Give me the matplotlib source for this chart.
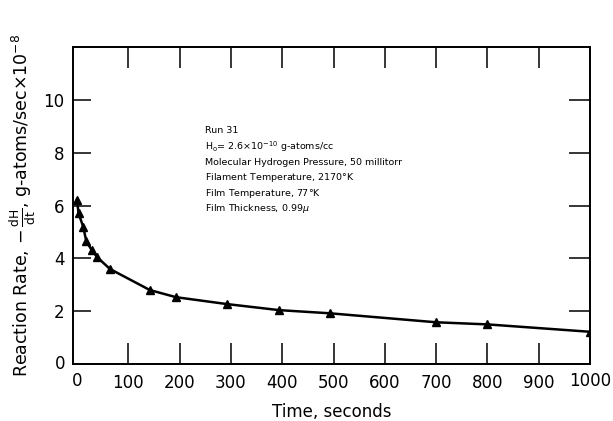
import matplotlib
matplotlib.use("Agg")
import matplotlib.pyplot as plt

# Reaction rate vs time, Run 31
time_s = [0, 3, 12, 18, 29, 39, 64, 142, 193, 292, 394, 493, 700, 800, 1000]
rate = [6.2, 5.7, 5.2, 4.65, 4.3, 4.05, 3.6, 2.8, 2.53, 2.27, 2.04, 1.92, 1.58, 1.5, 1.22]

x_ticks = [100, 200, 300, 400, 500, 600, 700, 800, 900]
x_ticklabels = ["100", "200", "300", "400", "500", "600", "700", "800", "900"]
y_ticks = [2, 4, 6, 8, 10]

notes = [
    "Run 31",
    r"H$_\mathrm{o}$= 2.6$\times$10$^{-10}$ g-atoms/cc",
    "Molecular Hydrogen Pressure, 50 millitorr",
    "Filament Temperature, 2170$\\degree$K",
    "Film Temperature, 77$\\degree$K",
    "Film Thickness, 0.99$\\mu$",
]

plt.rcParams["font.family"] = ["DejaVu Sans"]
plt.rcParams["mathtext.fontset"] = "dejavusans"

fig = plt.figure(figsize=(6.13, 4.21), dpi=100)
ax = fig.add_axes([0.119, 0.1354, 0.8435, 0.7526])

ax.plot(time_s, rate, color="black", lw=1.8, marker="^", ms=6,
        markerfacecolor="black", markeredgecolor="black", zorder=3)

ax.set_xlim(-8, 1000)
ax.set_ylim(0, 12)

ax.set_xticks(x_ticks)
ax.set_xticklabels(x_ticklabels)
ax.set_yticks(y_ticks)
ax.tick_params(axis="x", direction="in", length=15, width=1.1, top=False,
               labelsize=12, pad=7)
ax.tick_params(axis="y", direction="in", length=13, width=1.1, right=False,
               labelsize=12, pad=6)

# inward ticks along the top and right edges
ax_top = ax.twiny()
ax_top.set_xlim(ax.get_xlim())
ax_top.set_xticks(x_ticks)
ax_top.tick_params(axis="x", direction="in", length=15, width=1.1,
                   labeltop=False, bottom=False, top=True)
ax_right = ax.twinx()
ax_right.set_ylim(ax.get_ylim())
ax_right.set_yticks(y_ticks)
ax_right.tick_params(axis="y", direction="in", length=15, width=1.1,
                     labelright=False, left=False, right=True)

for a in (ax, ax_top, ax_right):
    for s in a.spines.values():
        s.set_linewidth(1.1)

# end labels at the origin and right edge
ax.text(1000, -0.3, "1000", ha="center", va="top", fontsize=12)
ax.text(0, -0.3, "0", ha="center", va="top", fontsize=12)
ax.text(-22, 0, "0", ha="right", va="center", fontsize=12)

ax.set_xlabel("Time, seconds", fontsize=12, labelpad=8)
ax.set_ylabel(r"Reaction Rate, $-\,\frac{\mathrm{dH}}{\mathrm{dt}}$, g-atoms/sec$\times$10$^{-8}$",
              fontsize=12.5, labelpad=4)

y0 = 8.83
for i, line in enumerate(notes):
    ax.text(250, y0 - i * 0.59, line, fontsize=6.8, ha="left", va="center")

fig.savefig("out.png", dpi=100)
